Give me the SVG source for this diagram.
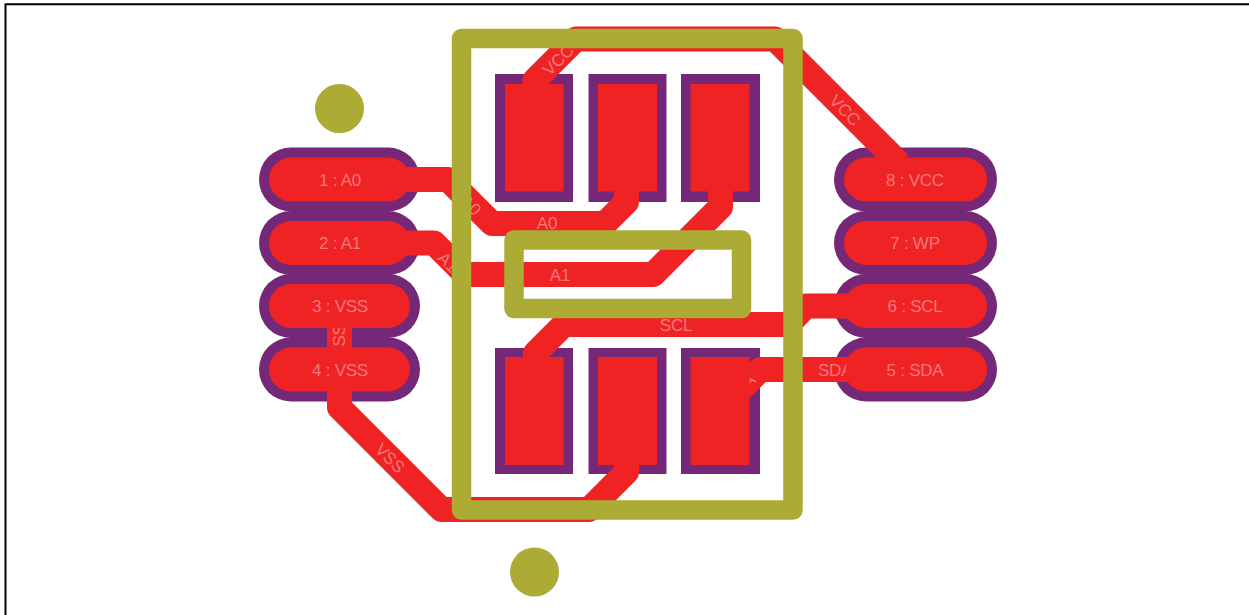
<svg xmlns="http://www.w3.org/2000/svg" width="1249" height="615" viewBox="0 0 1249 615">
<style>
.ring{fill:none;stroke:#742877;stroke-width:64;stroke-linecap:round}
.fill{fill:none;stroke:#EF2323;stroke-width:44;stroke-linecap:round}
.mask{fill:#742877}
.cu{fill:#EF2323}
.tr{fill:none;stroke:#EF2323;stroke-width:25;stroke-linejoin:round}
.silk{fill:none;stroke:#ABAB36;stroke-width:19.5;stroke-linejoin:round}
.dot{fill:#ABAB36}
text{font-family:"Liberation Sans",Arial,sans-serif;font-size:17px;fill:#F4777B;text-anchor:middle;letter-spacing:-.25px}
</style>
<defs>
<clipPath id="clipVss"><rect x="320" y="328" width="40" height="19"/></clipPath>
<clipPath id="clipSda"><rect x="780" y="350" width="66" height="40"/></clipPath>
<clipPath id="clipSda2"><rect x="749.500" y="370" width="20" height="30"/></clipPath>
</defs>
<rect width="1249" height="615" fill="#fff"/>
<path d="M5.500 615V4.300H1249" fill="none" stroke="#000" stroke-width="2"/>
<g id="pad-1"><path class="ring" d="M291 179.500H388"/><path class="fill" d="M291 179.500H388"/><text x="340" y="185.500">1 : A0</text></g>
<g id="pad-2"><path class="ring" d="M291 243H388"/><path class="fill" d="M291 243H388"/><text x="340" y="249">2 : A1</text></g>
<g id="pad-3"><path class="ring" d="M291 306H388"/><path class="fill" d="M291 306H388"/><text x="340" y="312">3 : VSS</text></g>
<g id="pad-4"><path class="ring" d="M291 369.500H388"/><path class="fill" d="M291 369.500H388"/><text x="340" y="375.500">4 : VSS</text></g>
<g id="pad-5"><path class="ring" d="M866 369.500H965"/><path class="fill" d="M866 369.500H965"/><text x="915" y="375.500">5 : SDA</text></g>
<g id="pad-6"><path class="ring" d="M866 306H965"/><path class="fill" d="M866 306H965"/><text x="915" y="312">6 : SCL</text></g>
<g id="pad-7"><path class="ring" d="M866 243H965"/><path class="fill" d="M866 243H965"/><text x="915" y="249">7 : WP</text></g>
<g id="pad-8"><path class="ring" d="M866 179.500H965"/><path class="fill" d="M866 179.500H965"/><text x="915" y="185.500">8 : VCC</text></g>
<g id="smd-1"><rect class="mask" x="495" y="74" width="78" height="128"/><rect class="cu" x="505" y="84" width="58.500" height="107.500"/></g>
<g id="smd-2"><rect class="mask" x="588.500" y="74" width="78" height="128"/><rect class="cu" x="598" y="84" width="59" height="107.500"/></g>
<g id="smd-3"><rect class="mask" x="681" y="74" width="79" height="128"/><rect class="cu" x="690.500" y="84" width="59" height="107.500"/></g>
<g id="smd-4"><rect class="mask" x="495" y="348" width="78" height="126"/><rect class="cu" x="505" y="357" width="58.500" height="108"/></g>
<g id="smd-5"><rect class="mask" x="588.500" y="348" width="78" height="126"/><rect class="cu" x="598" y="357" width="59" height="108"/></g>
<g id="smd-6"><rect class="mask" x="681" y="348" width="79" height="126"/><rect class="cu" x="690.500" y="357" width="59" height="108"/></g>
<g id="connectors">
<path class="tr" d="M375 179.500H448L492 223.500H605L626.500 202V185"/>
<path class="tr" d="M375 243H434L465.500 274.500H653.200L720.500 207V185"/>
<path class="tr" d="M860 306H806L788 324.500H564L535.500 353V375"/>
<path class="tr" d="M860 369.500H760.500L725 405"/>
<path class="tr" d="M535 90V80L576 39H775L900 164"/>
<path class="tr" d="M339.500 325V350"/>
<path class="tr" d="M339.500 388V407.500L441.500 509.500H589L626.500 472V455"/>
<text x="547" y="229">A0</text>
<text transform="translate(471 205) rotate(45)" y="6">A0</text>
<text x="560" y="280.500">A1</text>
<text transform="translate(448 262) rotate(45)" y="6">A1</text>
<text x="676" y="330.500">SCL</text>
<text x="835" y="375.500" clip-path="url(#clipSda)">SDA</text>
<g clip-path="url(#clipSda2)"><text transform="translate(740 389) rotate(-45)" y="6">SDA</text></g>
<text transform="translate(558 60) rotate(-45)" y="6">VCC</text>
<text transform="translate(845 110) rotate(45)" y="6">VCC</text>
<text transform="translate(390 458) rotate(45)" y="6">VSS</text>
<g clip-path="url(#clipVss)"><text transform="translate(339 341) rotate(-90)" y="6">VSS</text></g>
</g>
<g id="silkscreen">
<rect class="silk" x="461.500" y="38.500" width="331.500" height="471.500"/>
<rect class="silk" x="514" y="240" width="227.500" height="68.500"/>
<circle class="dot" cx="339.500" cy="108.500" r="24.500"/>
<circle class="dot" cx="534.500" cy="572" r="24.500"/>
</g>
</svg>
